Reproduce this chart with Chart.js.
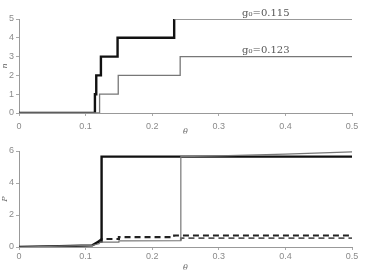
<!DOCTYPE html>
<html>
<head>
<meta charset="utf-8">
<script src="https://cdn.jsdelivr.net/npm/chart.js@4/dist/chart.umd.min.js"></script>
<style>
  body { margin: 0; background: #fff; }
  #wrap { position: relative; width: 377px; height: 273px; }
  #topChart { position: absolute; left: 0; top: 0; }
  #botChart { position: absolute; left: 0; top: 135px; }
</style>
</head>
<body>
<div id="wrap">
  <canvas id="topChart" width="377" height="137"></canvas>
  <canvas id="botChart" width="377" height="138"></canvas>
</div>
<script>
// top panel: n vs theta (step curves)
const thetaN1 = [0, 0.114, 0.116, 0.123, 0.148, 0.233, 0.5];
const n1      = [0, 1,     2,     3,     4,     5,     5];
const thetaN2 = [0, 0.121, 0.149, 0.242, 0.5];
const n2      = [0, 1,     2,     3,     3];
const labelsN = ['g\u2080=0.115', 'g\u2080=0.123'];

// bottom panel: P vs theta
const thetaP1 = [0, 0.06, 0.11, 0.118, 0.124, 0.124, 0.5];
const p1      = [0, 0.05, 0.1,  0.3,   0.35,  5.65,  5.65];
const thetaP2 = [0, 0.06, 0.11, 0.12, 0.122, 0.15, 0.15, 0.243, 0.243, 0.3, 0.4, 0.5];
const p2      = [0, 0.05, 0.1,  0.2,  0.3,   0.3,  0.38, 0.4,   5.65,  5.7, 5.8, 5.95];
const thetaQ1 = [0.118, 0.124, 0.15, 0.15, 0.233, 0.233, 0.5];
const q1      = [0.3,   0.5,   0.5,  0.62, 0.62,  0.72,  0.72];
const thetaQ2 = [0.243, 0.243, 0.5];
const q2      = [0.4,   0.55,  0.55];

const xTicks = [0, 0.1, 0.2, 0.3, 0.4, 0.5];

function pts(xs, ys) { return xs.map((x, i) => ({x: x, y: ys[i]})); }

const tickFont = {family: 'Liberation Sans', size: 9};
const gray = '#8a8a8a';

function xAxis(h, pad) {
  return {
    type: 'linear', min: 0, max: 0.5,
    afterBuildTicks: s => { s.ticks = xTicks.map(v => ({value: v})); },
    ticks: {color: gray, font: tickFont, padding: pad, maxRotation: 0,
            callback: v => String(v)},
    grid: {display: true, drawOnChartArea: false, tickLength: 3, color: '#aaa'},
    border: {color: '#999'},
    title: {display: true, text: '\u03b8', color: '#666', padding: 0,
            font: {family: 'DejaVu Serif', size: 8, style: 'italic'}},
    afterFit: s => { s.height = h; }
  };
}
function yAxis(max, step, label, w) {
  return {
    min: 0, max: max,
    ticks: {stepSize: step, color: gray, font: tickFont, padding: 2},
    grid: {display: true, drawOnChartArea: false, tickLength: 3, color: '#aaa'},
    border: {color: '#999'},
    title: {display: true, text: label, color: '#666', padding: 0,
            font: {family: 'DejaVu Serif', size: 8, style: 'italic'}},
    afterFit: s => { s.width = w; }
  };
}

// text labels beside the top curves
const curveLabels = {
  id: 'curveLabels',
  afterDatasetsDraw(chart) {
    const {ctx, scales} = chart;
    ctx.save();
    ctx.fillStyle = '#555';
    ctx.font = '10px "DejaVu Serif"';
    ctx.textBaseline = 'bottom';
    ctx.fillText(labelsN[0], scales.x.getPixelForValue(0.335), scales.y.getPixelForValue(5) - 1);
    ctx.fillText(labelsN[1], scales.x.getPixelForValue(0.335), scales.y.getPixelForValue(3) - 1);
    ctx.restore();
  }
};

new Chart(document.getElementById('topChart'), {
  type: 'line',
  data: {
    datasets: [
      {data: pts(thetaN2, n2), stepped: 'before', borderColor: '#777', borderWidth: 1.3, pointRadius: 0},
      {data: pts(thetaN1, n1), stepped: 'before', borderColor: '#111', borderWidth: 2.4, pointRadius: 0,
       segment: {borderColor: c => c.p0.parsed.x >= 0.233 ? '#777' : undefined,
                 borderWidth: c => c.p0.parsed.x >= 0.233 ? 1.3 : undefined}}
    ]
  },
  options: {
    responsive: false, animation: false,
    layout: {padding: {top: 19, right: 25, left: 0, bottom: 0}},
    plugins: {legend: {display: false}, tooltip: {enabled: false}},
    scales: {x: xAxis(24, 5), y: yAxis(5, 1, 'n', 19)}
  },
  plugins: [curveLabels]
});

new Chart(document.getElementById('botChart'), {
  type: 'line',
  data: {
    datasets: [
      {data: pts(thetaP2, p2), borderColor: '#777', borderWidth: 1.2, pointRadius: 0},
      {data: pts(thetaP1, p1), borderColor: '#111', borderWidth: 2.4, pointRadius: 0},
      {data: pts(thetaQ2, q2), borderColor: '#555', borderWidth: 1.8, borderDash: [6, 4], pointRadius: 0},
      {data: pts(thetaQ1, q1), borderColor: '#222', borderWidth: 2.2, borderDash: [6, 4], pointRadius: 0}
    ]
  },
  options: {
    responsive: false, animation: false,
    layout: {padding: {top: 16, right: 25, left: 0, bottom: 0}},
    plugins: {legend: {display: false}, tooltip: {enabled: false}},
    scales: {x: xAxis(26, 1), y: yAxis(6, 2, 'P', 19)}
  }
});
</script>
</body>
</html>
